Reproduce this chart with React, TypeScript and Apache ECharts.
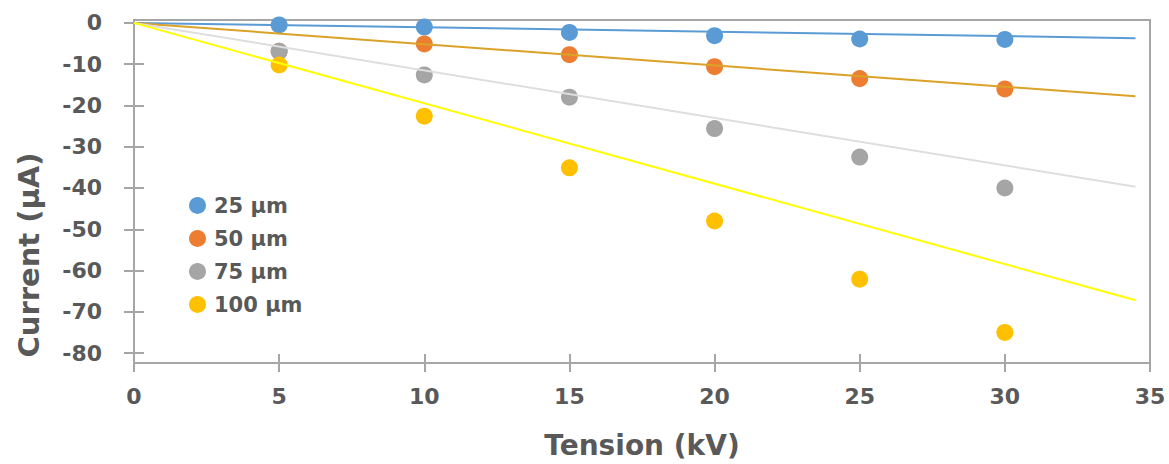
import React, { useEffect, useRef } from "react";
import * as echarts from "echarts";

const voltage = [5, 10, 15, 20, 25, 30];
const seriesNames = ["25 µm", "50 µm", "75 µm", "100 µm"];
const current25 = [-0.5, -1.0, -2.3, -3.1, -3.9, -4.0];
const current50 = [-6.9, -5.1, -7.7, -10.6, -13.5, -16.0];
const current75 = [-6.9, -12.6, -18.0, -25.6, -32.5, -40.0];
const current100 = [-10.2, -22.6, -35.1, -48.0, -62.1, -75.0];
// trendlines: start and end points
const trendX = [0, 34.5];
const trend25 = [0, -3.7];
const trend50 = [0, -17.8];
const trend75 = [0, -39.7];
const trend100 = [0, -67.2];
const yTicks = [0, -10, -20, -30, -40, -50, -60, -70, -80];
const xTitle = "Tension (kV)";
const yTitle = "Current (µA)";

const markerColors = ["#5b9bd5", "#ed7d31", "#a5a5a5", "#ffc000"];
const trendColors = ["#5b9bd5", "#dba228", "#dedede", "#ffff00"];

const FONT = "'DejaVu Sans', sans-serif";
const TEXT = "#595959";
const AXIS = "#a6a6a6";

export default function App() {
  const ref = useRef<HTMLDivElement>(null);
  useEffect(() => {
    if (!ref.current) return;
    const chart = echarts.init(ref.current, undefined, { renderer: "svg" });
    const values = [current25, current50, current75, current100];
    const trends = [trend25, trend50, trend75, trend100];
    const yMin = -82.4;
    const yMax = 0.7;
    const scatter = values.map((v, i) => ({
      name: seriesNames[i],
      type: "scatter",
      xAxisIndex: 0,
      yAxisIndex: 0,
      symbol: "circle",
      symbolSize: 17,
      itemStyle: { color: markerColors[i], opacity: 1 },
      data: voltage.map((x, j) => [x, v[j]]),
      z: 2,
    }));
    const lines = trends.map((t, i) => ({
      name: seriesNames[i] + " trend",
      type: "line",
      xAxisIndex: 0,
      yAxisIndex: 0,
      showSymbol: false,
      symbol: "none",
      lineStyle: { color: trendColors[i], width: 2 },
      data: trendX.map((x, j) => [x, t[j]]),
      z: 3,
      silent: true,
    }));
    chart.setOption({
      animation: false,
      backgroundColor: "#ffffff",
      textStyle: { fontFamily: FONT },
      grid: {
        left: 134,
        right: 19,
        top: 20,
        bottom: 100,
        show: true,
        borderColor: AXIS,
        borderWidth: 2,
        containLabel: false,
      },
      graphic: [
        {
          type: "text",
          x: 29,
          y: 255,
          rotation: Math.PI / 2,
          style: {
            text: yTitle,
            fill: TEXT,
            font: "bold 29px 'DejaVu Sans', sans-serif",
            align: "center",
            verticalAlign: "middle",
          },
        },
      ],
      legend: {
        data: seriesNames,
        orient: "vertical",
        left: 184,
        top: 190,
        itemGap: 12,
        itemWidth: 17,
        itemHeight: 17,
        icon: "circle",
        textStyle: {
          color: TEXT,
          fontSize: 21,
          fontWeight: "bold",
          fontFamily: FONT,
          padding: [0, 0, 0, 3],
        },
      },
      xAxis: [
        {
          type: "value",
          min: 0,
          max: 35,
          interval: 5,
          position: "bottom",
          name: xTitle,
          nameLocation: "middle",
          nameGap: 68,
          nameTextStyle: { color: TEXT, fontSize: 28, fontWeight: "bold", fontFamily: FONT },
          axisLine: { show: true, onZero: false, lineStyle: { color: AXIS, width: 2 } },
          axisTick: { show: true, length: 9, lineStyle: { color: AXIS, width: 2 } },
          axisLabel: { color: TEXT, fontSize: 22, fontWeight: "bold", margin: 22, fontFamily: FONT },
          splitLine: { show: false },
        },
        {
          type: "value",
          min: 0,
          max: 35,
          interval: 5,
          position: "bottom",
          axisLine: { show: false, onZero: false },
          axisTick: { show: true, inside: true, length: 9, lineStyle: { color: AXIS, width: 2 } },
          axisLabel: { show: false },
          splitLine: { show: false },
        },
      ],
      yAxis: [
        {
          type: "value",
          min: yMin,
          max: yMax,
          position: "left",
          axisLine: { show: true, onZero: false, lineStyle: { color: AXIS, width: 2 } },
          axisTick: { show: true, length: 10, customValues: yTicks, lineStyle: { color: AXIS, width: 2 } },
          axisLabel: {
            color: TEXT,
            fontSize: 22,
            fontWeight: "bold",
            margin: 32,
            fontFamily: FONT,
            customValues: yTicks,
          },
          splitLine: { show: false },
        },
        {
          type: "value",
          min: yMin,
          max: yMax,
          position: "left",
          axisLine: { show: false, onZero: false },
          axisTick: { show: true, inside: true, length: 10, customValues: yTicks, lineStyle: { color: AXIS, width: 2 } },
          axisLabel: { show: false, customValues: yTicks },
          splitLine: { show: false },
        },
      ],
      series: [...scatter, ...lines],
    });
    return () => chart.dispose();
  }, []);
  return (
    <div
      ref={ref}
      style={{ position: "fixed", left: 0, top: 0, width: 1169, height: 464, background: "#fff" }}
    />
  );
}
